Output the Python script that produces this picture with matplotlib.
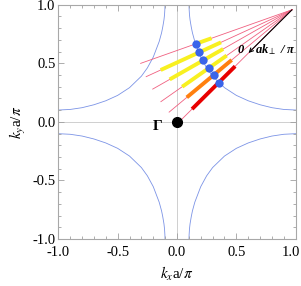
import numpy as np
import matplotlib
matplotlib.use("Agg")
import matplotlib.pyplot as plt
from matplotlib.ticker import MultipleLocator, FormatStrFormatter

plt.rcParams['font.family'] = ['Liberation Serif', 'DejaVu Serif']
plt.rcParams['mathtext.fontset'] = 'stix'

# Fermi surface, one quarter, mirrored into the other three
kx_fs = [0.101, 0.102, 0.105, 0.11, 0.12, 0.13, 0.15, 0.2, 0.25, 0.3,
         0.4, 0.5, 0.6, 0.7, 0.8, 0.9, 1.0]
ky_fs = [1.0, 0.965, 0.915, 0.87, 0.81, 0.76, 0.686, 0.553, 0.46, 0.39,
         0.292, 0.226, 0.18, 0.146, 0.121, 0.106, 0.101]

# point where the fan of cuts meets
fan_origin = (0.969, 0.957)
fan_length = 1.355

# blue dots: crossing of each cut with the Fermi surface
dot_kx = [0.158, 0.188, 0.222, 0.272, 0.309, 0.350]
dot_ky = [0.666, 0.594, 0.526, 0.462, 0.400, 0.334]

# thick parts of each cut, as distance from fan_origin
seg_start = [0.72, 0.66, 0.67, 0.675, 0.665, 0.68]
seg_end = [0.862, 1.22, 1.19, 1.135, 1.16, 1.195]
seg_color = ['#f8f020', '#f8f020', '#f8f020', '#f8f020', '#ff7f0e', '#e80000']

x_ticks = [-1.0, -0.5, 0.0, 0.5]
x_last = 1.0

arrow_length = 0.52

fig = plt.figure(figsize=(3.01, 2.86), dpi=100)
ax = fig.add_axes([0.1937, 0.1643, 0.7887, 0.8192])

ax.axhline(0, color='#c8c8c8', lw=0.6, zorder=0)
ax.axvline(0, color='#c8c8c8', lw=0.6, zorder=0)

kx = np.array(kx_fs)
ky = np.array(ky_fs)
for sx, sy in [(1, 1), (-1, 1), (1, -1), (-1, -1)]:
    ax.plot(sx * kx, sy * ky, color='#7b93e6', lw=0.6, zorder=1)

ox, oy = fan_origin
for i in range(len(dot_kx)):
    dx = dot_kx[i] - ox
    dy = dot_ky[i] - oy
    n = np.hypot(dx, dy)
    ux, uy = dx / n, dy / n
    ax.plot([ox, ox + fan_length * ux], [oy, oy + fan_length * uy],
            color='#f06080', lw=0.6, zorder=2)
    ax.plot([ox + seg_start[i] * ux, ox + seg_end[i] * ux],
            [oy + seg_start[i] * uy, oy + seg_end[i] * uy],
            color=seg_color[i], lw=2.8, solid_capstyle='butt', zorder=3)

ax.plot(dot_kx, dot_ky, 'o', color='#3a64ea', ms=6, mec='none', zorder=5)
ax.plot([0], [0], 'o', color='black', ms=7, zorder=5)

# black arrow along the last cut
ux = (dot_kx[-1] - ox) / np.hypot(dot_kx[-1] - ox, dot_ky[-1] - oy)
uy = (dot_ky[-1] - oy) / np.hypot(dot_kx[-1] - ox, dot_ky[-1] - oy)
ax.annotate('', xy=(ox + arrow_length * ux, oy + arrow_length * uy), xytext=(ox, oy),
            arrowprops=dict(arrowstyle='->', color='black', lw=0.8,
                            shrinkA=0, shrinkB=0, mutation_scale=7), zorder=6)

ax.text(0.537, 0.617, '0', fontsize=9, fontweight='bold', style='italic',
        ha='center', va='center', zorder=7)
ax.text(0.655, 0.617, r'ak$_{\perp}$ / π', fontsize=9, fontweight='bold',
        style='italic', ha='left', va='center', zorder=7)
ax.text(-0.16, -0.04, 'Γ', fontsize=11, fontweight='bold', ha='center',
        va='center', zorder=7)

ax.set_xlim(-1, 1)
ax.set_ylim(-1, 1)
ax.set_xticks(x_ticks + [x_last], ['%.1f' % v for v in x_ticks] + [''])
ax.yaxis.set_major_locator(MultipleLocator(0.5))
ax.xaxis.set_minor_locator(MultipleLocator(0.1))
ax.yaxis.set_minor_locator(MultipleLocator(0.1))
ax.yaxis.set_major_formatter(FormatStrFormatter('%.1f'))
ax.tick_params(which='both', direction='in', top=True, right=True,
               color='#a0a0a0', width=0.6, labelsize=10.5)
ax.tick_params(which='major', length=4, pad=5)
ax.tick_params(which='minor', length=2)
ax.tick_params(axis='y', which='major', pad=2)
for s in ax.spines.values():
    s.set_color('#a8a8a8')
    s.set_linewidth(0.8)

# right-most x tick label, nudged so it stays inside the picture
ax.annotate('%.1f' % x_last, xy=(x_last, 0), xycoords=('data', 'axes fraction'),
            xytext=(3.2, -5), textcoords='offset points', ha='right', va='top',
            fontsize=10.5)

ax.set_xlabel(r'$k_x$a/$\pi$', fontsize=11, labelpad=4)
ax.set_ylabel(r'$k_y$a/$\pi$', fontsize=11, labelpad=3)

fig.savefig('out.png', dpi=100)
